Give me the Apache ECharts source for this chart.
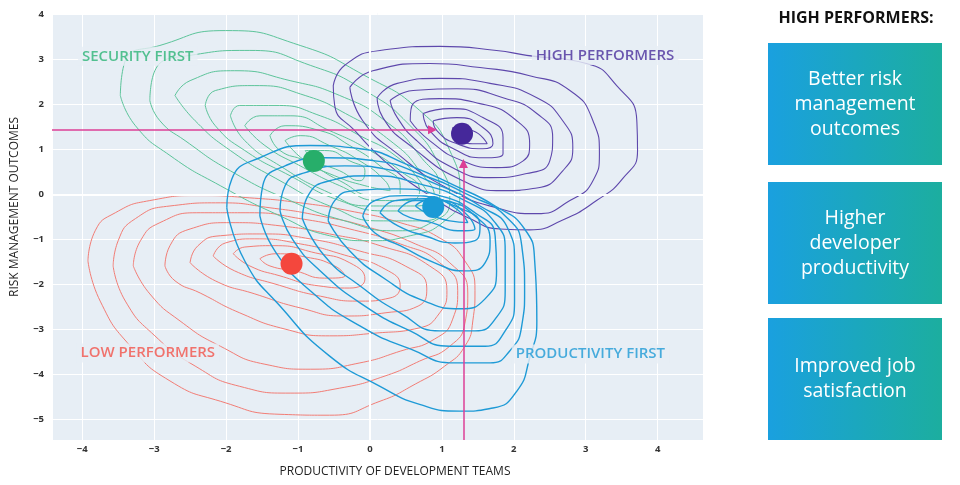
<!DOCTYPE html>
<html><head><meta charset="utf-8">
<script src="https://cdn.jsdelivr.net/npm/echarts@6/dist/echarts.min.js"></script>
<style>html,body{margin:0;padding:0;background:#fff}#c{width:960px;height:485px}</style>
</head><body><div id="c"></div>
<script>
// ---------- data ----------
const xTicks = [-4, -3, -2, -1, 0, 1, 2, 3, 4];
const yTicks = [-5, -4, -3, -2, -1, 0, 1, 2, 3, 4];
const xRange = [-4.42, 4.63];
const yRange = [-5.45, 4.02];

const groupNames = ['SECURITY FIRST', 'HIGH PERFORMERS', 'PRODUCTIVITY FIRST', 'LOW PERFORMERS'];
const centerX = [-0.78, 1.28, 0.88, -1.09];
const centerY = [0.74, 1.34, -0.28, -1.54];
const labelX = [-4.06, 2.25, 1.97, -4.08];
const labelY = [3.06, 3.08, -3.54, -3.52];

const riskArrow = [[-4.42, 1.43], [0.87, 1.43]];
const productivityArrow = [[1.30, -5.45], [1.30, 0.68]];

const boxTexts = ['Better risk\nmanagement\noutcomes', 'Higher\ndeveloper\nproductivity', 'Improved job\nsatisfaction'];
const panelTitle = 'HIGH PERFORMERS:';
const xTitle = 'PRODUCTIVITY OF DEVELOPMENT TEAMS';
const yTitle = 'RISK MANAGEMENT OUTCOMES';

// contour rings, outer to inner
const securityRings = [
  [[-3.47,2.19],[-3.40,2.97],[-2.92,3.30],[-2.01,3.63],[-0.97,3.30],[-0.07,2.63],[0.69,1.86],[1.11,0.97],[1.25,-0.03],[1.04,-0.59],[0.56,-0.92],[0,-1.03],[-0.56,-0.92],[-1.25,-0.48],[-2.08,0.19],[-2.78,0.86],[-3.26,1.52]],
  [[-3.06,2.08],[-2.99,2.74],[-2.50,3.08],[-1.67,3.19],[-0.83,2.86],[-0.07,2.30],[0.56,1.52],[0.97,0.63],[1.11,-0.14],[0.90,-0.59],[0.35,-0.81],[-0.35,-0.59],[-1.11,-0.14],[-1.94,0.52],[-2.57,1.19],[-2.92,1.63]],
  [[-2.71,2.19],[-2.50,2.52],[-1.88,2.74],[-1.11,2.52],[-0.42,2.19],[0.21,1.63],[0.69,0.86],[0.97,0.08],[0.97,-0.37],[0.69,-0.59],[0.14,-0.59],[-0.56,-0.26],[-1.25,0.30],[-1.94,0.97],[-2.43,1.63]],
  [[-2.29,1.97],[-2.15,2.30],[-1.60,2.41],[-0.90,2.19],[-0.28,1.74],[0.28,1.19],[0.69,0.52],[0.90,-0.14],[0.76,-0.37],[0.28,-0.37],[-0.42,-0.14],[-1.11,0.41],[-1.74,0.97],[-2.15,1.52]],
  [[-1.94,1.74],[-1.81,1.97],[-1.32,1.97],[-0.69,1.74],[-0.14,1.30],[0.35,0.86],[0.69,0.30],[0.83,-0.14],[0.56,-0.26],[0,-0.26],[-0.63,0.08],[-1.25,0.63],[-1.74,1.19]],
  [[-1.74,1.52],[-1.53,1.74],[-1.11,1.74],[-0.56,1.41],[0,0.97],[0.42,0.52],[0.69,0.08],[0.56,-0.14],[0.14,-0.14],[-0.42,0.19],[-0.97,0.63],[-1.46,1.08]],
  [[-1.39,1.30],[-1.18,1.52],[-0.69,1.41],[-0.28,1.08],[0.14,0.63],[0.42,0.19],[0.42,-0.03],[0.07,-0.03],[-0.42,0.30],[-0.90,0.74],[-1.25,0.97]],
  [[-1.18,1.19],[-0.97,1.30],[-0.56,1.08],[-0.14,0.74],[0.21,0.30],[0.28,0.08],[-0.07,0.19],[-0.49,0.41],[-0.90,0.74]],
  [[-0.90,0.97],[-0.63,0.97],[-0.28,0.74],[-0.07,0.52],[-0.14,0.30],[-0.42,0.52],[-0.76,0.74]]
];

const highRings = [
  [[-0.51,2.41],[-0.35,2.86],[0.14,3.19],[0.97,3.28],[1.76,3.19],[2.18,3.08],[3.01,2.90],[3.43,2.41],[3.71,1.63],[3.72,0.97],[3.51,0.34],[3.15,-0.14],[2.68,-0.57],[2.22,-0.79],[1.81,-0.77],[1.39,-0.54],[0.83,-0.03],[0.28,0.63],[-0.21,1.41],[-0.49,1.97]],
  [[-0.28,2.37],[0.04,2.74],[0.83,2.90],[1.53,2.81],[2.22,2.63],[2.78,2.30],[3.10,1.63],[3.19,0.90],[3.10,0.30],[2.78,-0.14],[2.32,-0.43],[1.76,-0.30],[1.07,0.14],[0.38,0.90],[-0.10,1.63]],
  [[0.10,2.14],[0.38,2.46],[0.97,2.57],[1.67,2.46],[2.32,2.14],[2.68,1.63],[2.82,1.03],[2.68,0.52],[2.32,0.14],[1.85,0.08],[1.29,0.30],[0.60,1.03],[0.18,1.70]],
  [[0.28,2.08],[0.60,2.30],[1.21,2.34],[1.85,2.14],[2.32,1.79],[2.54,1.26],[2.50,0.74],[2.18,0.46],[1.67,0.37],[1.15,0.59],[0.65,1.19],[0.38,1.70]],
  [[0.56,1.63],[0.60,2.01],[0.97,2.12],[1.53,2.01],[2.04,1.63],[2.22,1.12],[2.13,0.74],[1.76,0.59],[1.29,0.74],[0.83,1.19]],
  [[0.74,1.79],[1.11,1.90],[1.57,1.70],[1.85,1.26],[1.85,0.90],[1.57,0.81],[1.21,0.97],[0.83,1.41]],
  [[0.88,1.63],[1.21,1.70],[1.57,1.48],[1.71,1.12],[1.57,1.01],[1.21,1.12],[0.93,1.41]],
  [[1.15,1.48],[1.43,1.41],[1.63,1.12],[1.43,1.12],[1.18,1.30]]
];

const productivityRings = [
  [[-1.99,-0.30],[-1.92,0.34],[-1.53,0.81],[-0.83,1.08],[-0.14,1.01],[0.56,0.63],[1.18,0.19],[1.74,-0.26],[2.15,-0.77],[2.29,-1.48],[2.32,-2.81],[2.22,-3.63],[2.04,-4.37],[1.71,-4.74],[1.25,-4.81],[0.69,-4.66],[0.14,-4.26],[-0.56,-3.59],[-1.25,-2.48],[-1.74,-1.48]],
  [[-1.53,-0.48],[-1.49,0.19],[-1.18,0.63],[-0.63,0.81],[0.07,0.74],[0.76,0.41],[1.39,-0.03],[1.88,-0.48],[2.11,-1.14],[2.15,-2.14],[2.11,-2.92],[1.94,-3.48],[1.67,-3.74],[1.18,-3.74],[0.56,-3.43],[-0.14,-2.92],[-0.83,-2.14],[-1.32,-1.26]],
  [[-1.25,-0.37],[-1.18,0.19],[-0.90,0.48],[-0.35,0.63],[0.35,0.52],[0.97,0.19],[1.53,-0.26],[1.92,-0.77],[2.01,-1.48],[2.01,-2.37],[1.88,-3.03],[1.60,-3.37],[1.11,-3.37],[0.56,-3.03],[-0.07,-2.48],[-0.69,-1.70],[-1.08,-0.99]],
  [[-0.94,-0.54],[-0.86,-0.03],[-0.56,0.30],[0,0.41],[0.69,0.23],[1.32,-0.14],[1.74,-0.63],[1.88,-1.26],[1.88,-2.14],[1.74,-2.77],[1.46,-3.03],[0.97,-3.03],[0.42,-2.63],[-0.14,-2.03],[-0.63,-1.37]],
  [[-0.58,-0.59],[-0.49,-0.14],[-0.21,0.08],[0.35,0.12],[0.97,-0.03],[1.46,-0.41],[1.74,-0.92],[1.76,-1.70],[1.60,-2.32],[1.25,-2.54],[0.76,-2.37],[0.21,-1.88],[-0.28,-1.26]],
  [[-0.10,-0.48],[0.07,-0.14],[0.49,-0.03],[1.04,-0.14],[1.46,-0.48],[1.67,-1.03],[1.60,-1.52],[1.32,-1.70],[0.90,-1.52],[0.42,-1.14],[0.07,-0.86]],
  [[0.14,-0.41],[0.35,-0.14],[0.76,-0.10],[1.18,-0.26],[1.53,-0.70],[1.46,-1.03],[1.18,-1.08],[0.76,-0.92],[0.39,-0.70]],
  [[0.39,-0.37],[0.63,-0.14],[0.97,-0.14],[1.32,-0.41],[1.46,-0.77],[1.22,-0.81],[0.86,-0.63],[0.56,-0.52]],
  [[0.63,-0.26],[0.86,-0.10],[1.18,-0.30],[1.36,-0.63],[1.11,-0.59],[0.81,-0.43]]
];

const lowRings = [
  [[-3.92,-1.48],[-3.82,-0.81],[-3.54,-0.41],[-3.06,-0.14],[-2.36,-0.03],[-1.67,-0.08],[-0.97,-0.19],[-0.28,-0.37],[0.42,-0.63],[0.97,-0.97],[1.32,-1.48],[1.46,-2.14],[1.43,-2.81],[1.32,-3.37],[1.04,-3.81],[0.63,-4.21],[0.14,-4.59],[-0.56,-4.90],[-1.25,-4.88],[-2.08,-4.59],[-2.78,-4.14],[-3.33,-3.37],[-3.75,-2.37]],
  [[-3.57,-1.59],[-3.50,-1.03],[-3.26,-0.54],[-2.78,-0.26],[-2.08,-0.19],[-1.39,-0.30],[-0.69,-0.48],[0,-0.74],[0.63,-1.10],[1.11,-1.52],[1.36,-2.19],[1.32,-2.86],[1.11,-3.37],[0.69,-3.70],[0.21,-4.03],[-0.42,-4.30],[-1.11,-4.41],[-1.81,-4.26],[-2.43,-3.81],[-2.99,-3.14],[-3.40,-2.37]],
  [[-3.29,-1.59],[-3.19,-1.03],[-2.92,-0.63],[-2.36,-0.41],[-1.67,-0.41],[-0.97,-0.54],[-0.28,-0.77],[0.42,-1.10],[0.97,-1.52],[1.22,-2.14],[1.15,-2.77],[0.90,-3.21],[0.42,-3.48],[-0.14,-3.74],[-0.83,-3.88],[-1.46,-3.77],[-2.08,-3.37],[-2.64,-2.81],[-3.06,-2.21]],
  [[-2.85,-1.59],[-2.78,-1.14],[-2.50,-0.77],[-1.94,-0.63],[-1.25,-0.70],[-0.56,-0.88],[0.14,-1.14],[0.83,-1.59],[1.07,-2.14],[0.97,-2.63],[0.67,-2.97],[0.07,-3.08],[-0.56,-3.14],[-1.18,-2.99],[-1.81,-2.63],[-2.36,-2.19],[-2.71,-1.92]],
  [[-2.50,-1.52],[-2.39,-1.14],[-2.08,-0.92],[-1.53,-0.88],[-0.83,-0.99],[-0.14,-1.26],[0.49,-1.59],[0.79,-2.08],[0.67,-2.48],[0.21,-2.63],[-0.35,-2.70],[-0.97,-2.52],[-1.60,-2.21],[-2.15,-1.92]],
  [[-2.18,-1.37],[-2.01,-1.08],[-1.60,-0.99],[-0.97,-1.10],[-0.35,-1.35],[0.21,-1.66],[0.42,-2.03],[0.28,-2.30],[-0.14,-2.37],[-0.69,-2.26],[-1.32,-1.99],[-1.88,-1.70]],
  [[-1.90,-1.32],[-1.74,-1.17],[-1.32,-1.14],[-0.76,-1.30],[-0.28,-1.52],[-0.07,-1.88],[-0.28,-2.08],[-0.72,-2.03],[-1.25,-1.81],[-1.67,-1.59]],
  [[-1.53,-1.43],[-1.32,-1.32],[-0.90,-1.39],[-0.49,-1.59],[-0.35,-1.81],[-0.63,-1.86],[-1.04,-1.70],[-1.39,-1.59]]
];

// ---------- styling ----------
const groupColors = ['#2DB477', '#4A2E9C', '#1E9AD6', '#F2524A'];
const dotColors = ['#27AE6A', '#45289A', '#1A9AD6', '#F4473D'];
const ringColors = ['#5CC49A', '#5E48AC', '#1E9AD6', '#F27D75'];
const ringWidths = [1, 1.1, 1.4, 1];
const plotBg = '#E7EEF5';
const FONT = '"Open Sans", Lato, sans-serif';

const chart = echarts.init(document.getElementById('c'), null, {renderer: 'canvas'});

function ringSeries(rings, idx, z) {
  return rings.map(r => ({
    type: 'line', data: r.concat([r[0]]), smooth: 0.55, symbol: 'none', silent: true,
    lineStyle: {color: ringColors[idx], width: ringWidths[idx]}, z: z, animation: false
  }));
}

const fmt = v => (xTicks.includes(v) || yTicks.includes(v)) ? String(v).replace('-', '\u2212') : '';

const series = [].concat(
  [{type: 'line', data: [], silent: true, z: 1,
    markLine: {silent: true, symbol: 'none', label: {show: false},
      lineStyle: {color: '#ffffff', width: 2, type: 'solid'},
      data: [{xAxis: 0}, {yAxis: 0}]}}],
  ringSeries(lowRings, 3, 2),
  ringSeries(securityRings, 0, 3),
  ringSeries(highRings, 1, 4),
  ringSeries(productivityRings, 2, 5),
  [{type: 'lines', coordinateSystem: 'cartesian2d', silent: true, z: 6,
    symbol: ['none', 'triangle'], symbolSize: [0, 9],
    lineStyle: {color: '#DC3F96', width: 1.5, opacity: 1, curveness: 0},
    data: [{coords: riskArrow}, {coords: productivityArrow}]}],
  [{type: 'scatter', silent: true, z: 7, symbolSize: 22,
    data: centerX.map((x, i) => ({value: [x, centerY[i]], itemStyle: {color: dotColors[i], opacity: 1}}))}],
  [{type: 'scatter', silent: true, z: 8, symbolSize: 0.1, itemStyle: {color: 'transparent'},
    data: groupNames.map((n, i) => ({value: [labelX[i], labelY[i]], name: n,
      label: {show: true, position: 'right', distance: 0, formatter: n, color: groupColors[i],
        fontFamily: FONT, fontSize: 15, fontWeight: 600, backgroundColor: plotBg, padding: [2, 4, 2, 4]}}))}]
);

const boxTop = [43, 182, 318];
const graphic = [
  {type: 'text', x: 15, y: 207, rotation: Math.PI / 2,
    style: {text: yTitle, fill: '#222', font: '500 12px ' + FONT, align: 'center', verticalAlign: 'middle', textAlign: 'center', textVerticalAlign: 'middle'}},
  {type: 'text', x: 395, y: 472,
    style: {text: xTitle, fill: '#222', font: '500 12px ' + FONT, align: 'center', verticalAlign: 'middle', textAlign: 'center', textVerticalAlign: 'middle'}},
  {type: 'text', x: 856, y: 18,
    style: {text: panelTitle, fill: '#111', font: 'bold 16px ' + FONT, align: 'center', verticalAlign: 'middle', textAlign: 'center', textVerticalAlign: 'middle'}}
];
boxTexts.forEach((t, i) => {
  graphic.push({type: 'rect', shape: {x: 768, y: boxTop[i], width: 174, height: 122},
    style: {fill: new echarts.graphic.LinearGradient(0, 0, 1, 0, [{offset: 0, color: '#1AA0DF'}, {offset: 1, color: '#1CAE9F'}])}});
  graphic.push({type: 'text', x: 855, y: boxTop[i] + 61,
    style: {text: t, fill: '#fff', font: '19.5px ' + FONT, lineHeight: 25, align: 'center', verticalAlign: 'middle', textAlign: 'center', textVerticalAlign: 'middle'}});
});

chart.setOption({
  animation: false,
  grid: {left: 52, right: 257, top: 13, bottom: 45, show: true, backgroundColor: plotBg, borderWidth: 0},
  xAxis: {type: 'value', min: xRange[0], max: xRange[1], splitNumber: 9,
    axisLine: {show: false}, axisTick: {show: false},
    axisLabel: {formatter: fmt, color: '#333', fontFamily: FONT, fontSize: 9.5, fontWeight: 'bold', margin: 4, showMinLabel: false, showMaxLabel: false},
    splitLine: {show: true, lineStyle: {color: '#ffffff', width: 1}}},
  yAxis: {type: 'value', min: yRange[0], max: yRange[1], splitNumber: 9,
    axisLine: {show: false}, axisTick: {show: false},
    axisLabel: {formatter: fmt, color: '#333', fontFamily: FONT, fontSize: 9.5, fontWeight: 'bold', margin: 8, showMinLabel: false, showMaxLabel: false},
    splitLine: {show: true, lineStyle: {color: '#ffffff', width: 1}}},
  series: series,
  graphic: graphic
});
</script></body></html>
